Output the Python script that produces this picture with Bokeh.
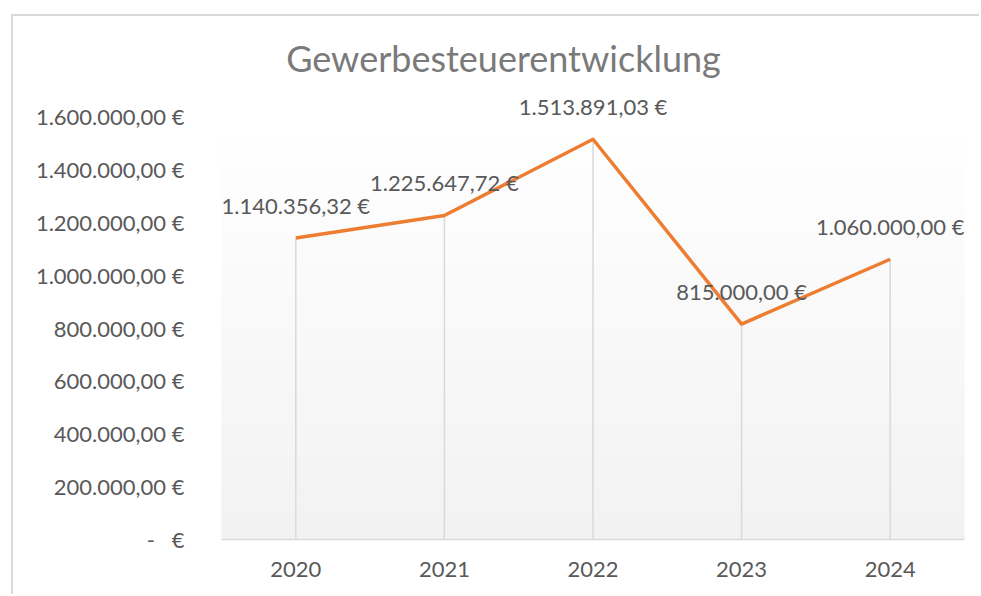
from bokeh.plotting import figure
from bokeh.models import Range1d, FixedTicker, LabelSet, Label, ColumnDataSource
from bokeh.core.properties import value
from bokeh.embed import file_html
from bokeh.resources import INLINE
import numpy as np

# ---- data ----
years = ["2020", "2021", "2022", "2023", "2024"]
values = [1140356.32, 1225647.72, 1513891.03, 815000.00, 1060000.00]
value_labels = ["1.140.356,32 €", "1.225.647,72 €", "1.513.891,03 €", "815.000,00 €", "1.060.000,00 €"]
y_ticks = [0, 200000, 400000, 600000, 800000, 1000000, 1200000, 1400000, 1600000]
y_tick_labels = ["-\u00a0\u00a0\u00a0€", "200.000,00 €", "400.000,00 €", "600.000,00 €", "800.000,00 €",
                 "1.000.000,00 €", "1.200.000,00 €", "1.400.000,00 €", "1.600.000,00 €"]
title_text = "Gewerbesteuerentwicklung"

FONT = "Lato"
TXT = "#595959"

xs = [i + 0.5 for i in range(len(years))]
y_max = y_ticks[-1]

# layout: frame from window y=28 to y=539, axis max (1.6M) at window y=116
frame_top, axis_top, axis_bottom = 28, 116, 539
y_end = y_max * (axis_bottom - frame_top) / (axis_bottom - axis_top)

p = figure(width=968, height=580, x_range=Range1d(0, len(years)), y_range=Range1d(0, y_end),
           output_backend="svg", toolbar_location=None,
           min_border_left=208, min_border_right=17, min_border_top=frame_top - 16, min_border_bottom=57)
p.margin = (14, 0, 0, 11)
p.styles = {"border-top": "2px solid #d9d9d9", "border-left": "2px solid #d9d9d9"}

p.outline_line_color = None
p.grid.grid_line_color = None
p.background_fill_color = "white"
p.border_fill_color = "white"

# gradient plot-area background
n = 40
edges = np.linspace(0, y_max, n + 1)
cols = []
for k in range(n):
    t = (k + 0.5) / n
    c = int(round(242 + (255 - 242) * t))
    cols.append("#%02x%02x%02x" % (c, c, c))
p.quad(left=0, right=len(years), bottom=edges[:-1], top=edges[1:], fill_color=cols, line_color=cols, line_width=1)

# drop lines
p.segment(x0=xs, y0=[0] * len(xs), x1=xs, y1=values, line_color="#d9d9d9", line_width=1.5)

# series line
p.line(xs, values, line_color="#ED7D31", line_width=3.5, line_join="round")

# data labels
src = ColumnDataSource(dict(x=xs, y=values, t=value_labels))
labels = LabelSet(x="x", y="y", text="t", source=src, text_align="center", text_baseline="middle",
                  y_offset=33, text_font=value(FONT), text_font_size=value("22px"), text_color=value(TXT))
p.add_layout(labels)

# title (inside the tall frame, screen units relative to frame)
p.add_layout(Label(x=503 - 221, y=axis_bottom - 57, x_units="screen", y_units="screen",
                   text=title_text, text_align="center", text_baseline="middle",
                   text_font=FONT, text_font_size="36px", text_color="#7a7a7a"))

# axes
xa = p.xaxis[0]
xa.ticker = FixedTicker(ticks=xs)
xa.major_label_overrides = {x: y for x, y in zip(xs, years)}
xa.major_tick_line_color = None
xa.minor_tick_line_color = None
xa.axis_line_color = "#d9d9d9"
xa.axis_line_width = 1.5
xa.major_label_text_font = FONT
xa.major_label_text_font_size = "22px"
xa.major_label_text_color = TXT
xa.major_label_standoff = 16

ya = p.yaxis[0]
ya.ticker = FixedTicker(ticks=y_ticks)
ya.major_label_overrides = {t: s for t, s in zip(y_ticks, y_tick_labels)}
ya.major_tick_line_color = None
ya.minor_tick_line_color = None
ya.axis_line_color = None
ya.major_label_text_font = FONT
ya.major_label_text_font_size = "22px"
ya.major_label_text_color = TXT
ya.major_label_standoff = 31

open("out.html", "w").write(file_html(p, INLINE))
